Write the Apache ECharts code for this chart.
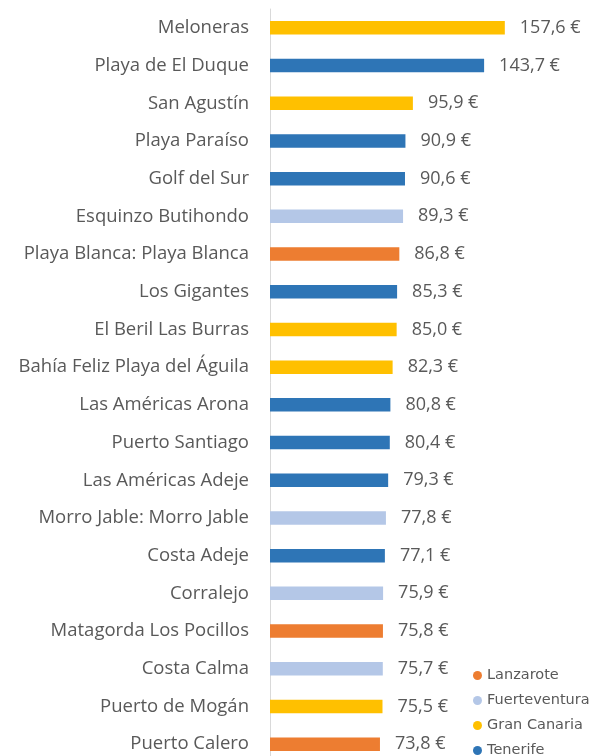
<!DOCTYPE html>
<html style="height: 100%">
<head>
    <meta charset="UTF-8">
    <title>Precio medio por zona</title>
</head>
<body style="height: 100%; margin: 0; background: #fff">
    <div id="container" style="width: 595px; height: 756px"></div>

    <script src="https://cdn.jsdelivr.net/npm/echarts@6/dist/echarts.min.js"></script>
    <script type="text/javascript">
        // categories top to bottom
        var zonas = ['Meloneras', 'Playa de El Duque', 'San Agustín', 'Playa Paraíso', 'Golf del Sur',
            'Esquinzo Butihondo', 'Playa Blanca: Playa Blanca', 'Los Gigantes', 'El Beril Las Burras',
            'Bahía Feliz Playa del Águila', 'Las Américas Arona', 'Puerto Santiago', 'Las Américas Adeje',
            'Morro Jable: Morro Jable', 'Costa Adeje', 'Corralejo', 'Matagorda Los Pocillos',
            'Costa Calma', 'Puerto de Mogán', 'Puerto Calero'];
        var precios = [157.6, 143.7, 95.9, 90.9, 90.6, 89.3, 86.8, 85.3, 85.0, 82.3,
            80.8, 80.4, 79.3, 77.8, 77.1, 75.9, 75.8, 75.7, 75.5, 73.8];
        var islas = ['Gran Canaria', 'Tenerife', 'Gran Canaria', 'Tenerife', 'Tenerife',
            'Fuerteventura', 'Lanzarote', 'Tenerife', 'Gran Canaria', 'Gran Canaria',
            'Tenerife', 'Tenerife', 'Tenerife', 'Fuerteventura', 'Tenerife',
            'Fuerteventura', 'Lanzarote', 'Fuerteventura', 'Gran Canaria', 'Lanzarote'];
        var islasLeyenda = ['Lanzarote', 'Fuerteventura', 'Gran Canaria', 'Tenerife'];
        var colores = {
            'Lanzarote': '#ED7D31',
            'Fuerteventura': '#B4C7E7',
            'Gran Canaria': '#FFC000',
            'Tenerife': '#2E75B6'
        };

        var dom = document.getElementById('container');
        var myChart = echarts.init(dom);
        var fuente = 'Open Sans';

        // one series per island, stacked so every zone keeps a single bar slot
        var series = islasLeyenda.map(function (isla) {
            return {
                name: isla,
                type: 'bar',
                stack: 'total',
                barWidth: 13.5,
                itemStyle: {color: colores[isla]},
                label: {
                    show: true,
                    position: 'right',
                    distance: 15,
                    color: '#595959',
                    fontFamily: fuente,
                    fontSize: 18,
                    formatter: function (p) {
                        return p.value.toFixed(1).replace('.', ',') + ' €';
                    }
                },
                data: precios.map(function (v, i) {
                    return islas[i] === isla ? v : null;
                })
            };
        });

        var option = {
            animation: false,
            legend: {
                data: islasLeyenda,
                orient: 'vertical',
                left: 468,
                top: 663,
                height: 200,
                itemGap: 10,
                itemWidth: 9,
                itemHeight: 9,
                icon: 'circle',
                textStyle: {color: '#595959', fontFamily: 'DejaVu Sans', fontSize: 14.5}
            },
            grid: {
                left: 270,
                right: 27,
                top: 9,
                height: 754,
                outerBoundsMode: 'none',
                containLabel: false
            },
            xAxis: {
                type: 'value',
                min: 0,
                max: 200,
                show: false
            },
            yAxis: {
                type: 'category',
                inverse: true,
                data: zonas,
                axisTick: {show: false},
                axisLine: {show: true, lineStyle: {color: '#d9d9d9', width: 1}},
                axisLabel: {
                    margin: 21,
                    color: '#595959',
                    fontFamily: fuente,
                    fontSize: 18.5
                }
            },
            series: series
        };

        myChart.setOption(option, true);
    </script>
</body>
</html>
